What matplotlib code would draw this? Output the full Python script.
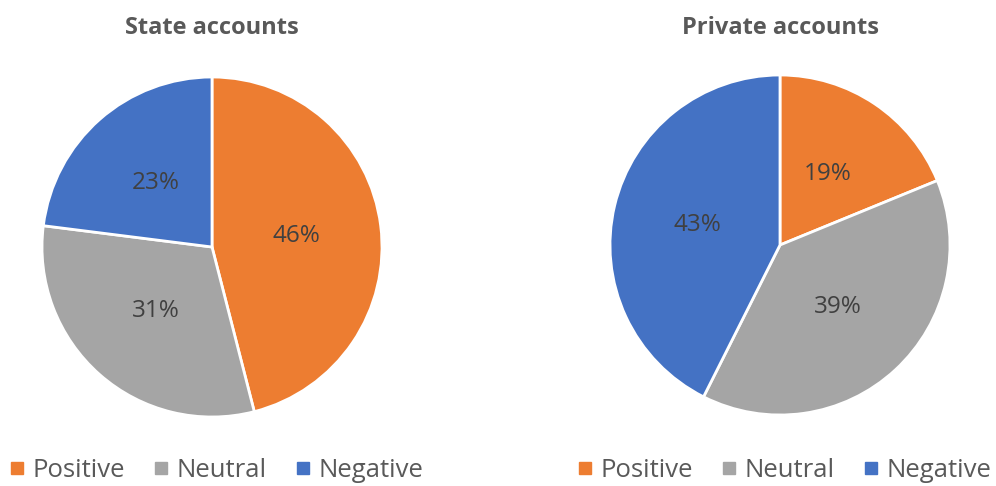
import matplotlib.pyplot as plt
from matplotlib.lines import Line2D

# shares of accounts by sentiment (percent)
categories = ["Positive", "Neutral", "Negative"]
state_values = [46, 31, 23]
private_values = [19, 39, 43]
titles = ["State accounts", "Private accounts"]

colors = ["#ED7D31", "#A5A5A5", "#4472C4"]
text_color = "#404040"
title_color = "#595959"

plt.rcParams['font.family'] = ['Open Sans', 'DejaVu Sans']

W, H = 996, 486
fig = plt.figure(figsize=(W / 100, H / 100), dpi=100)

# pie centres and radius in pixels
centres = [(212, 247), (780, 245)]
r = 170

for (cx, cy), vals, title in zip(centres, [state_values, private_values], titles):
    ax = fig.add_axes([(cx - r) / W, 1 - (cy + r) / H, 2 * r / W, 2 * r / H])
    wedges, texts, autotexts = ax.pie(
        vals, colors=colors, startangle=90, counterclock=False,
        autopct=lambda p: f"{p:.0f}%", pctdistance=0.5,
        wedgeprops=dict(edgecolor="white", linewidth=2),
        textprops=dict(color=text_color, fontsize=17.5))
    ax.set_xlim(-1, 1)
    ax.set_ylim(-1, 1)
    ax.set_aspect("equal")
    fig.text(cx / W, 1 - 28 / H, title, ha="center", va="center",
             fontsize=17, fontweight="bold", color=title_color)

    handles = [Line2D([], [], marker="s", linestyle="", color=c, markersize=8)
               for c in colors]
    fig.legend(handles, categories, loc="center", ncol=3, frameon=False,
               bbox_to_anchor=((cx + 5) / W, 1 - 470 / H),
               fontsize=18.5, labelcolor=title_color, handlelength=0.5,
               handletextpad=0.35, columnspacing=1.15)

fig.savefig("out.png", dpi=100)
